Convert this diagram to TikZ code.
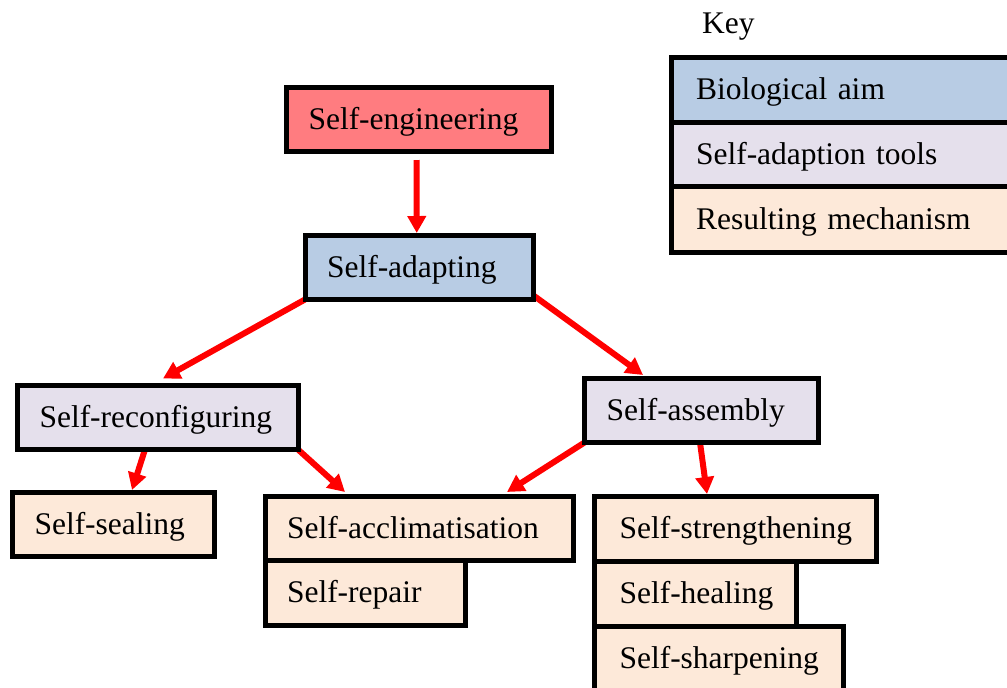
\documentclass[tikz,border=0pt]{standalone}
\usepackage{fontspec}
\setmainfont{Liberation Serif}
\usetikzlibrary{arrows.meta,backgrounds}
\definecolor{cRed}{RGB}{255,124,128}
\definecolor{cBlue}{RGB}{184,204,228}
\definecolor{cLav}{RGB}{229,224,236}
\definecolor{cPeach}{RGB}{253,233,217}
\begin{document}
\begin{tikzpicture}[x=1pt,y=-1pt,
  bx/.style={draw=black, line width=5pt, rectangle, outer sep=0pt, anchor=north west,
    inner xsep=22pt, inner ysep=0pt, align=left, font=\fontsize{31.5}{38}\selectfont,
    text height=23.6pt, text depth=3.8pt},
  sz/.style n args={3}{minimum width=#1, minimum height=#2, text width=#3},
  arr/.style={draw=red, line width=6pt, -{Triangle[length=17pt,width=18pt]}},
  keytxt/.style={anchor=base west, inner sep=0pt, font=\fontsize{31.5}{38}\selectfont}]
\useasboundingbox (0,0) rectangle (1007,688);
\clip (0,0) rectangle (1007,688);
% main boxes
\node[bx, fill=cRed,  sz={265}{64}{221}]     (se) at (286.5,87.5) {\mbox{Self-engineering}};
\node[bx, fill=cBlue, sz={228.5}{64}{184.5}] (sa) at (305,235.5) {\mbox{Self-adapting}};
\node[bx, fill=cLav,  sz={280.5}{64}{236.5}] (sr) at (17.5,385.5) {\mbox{Self-reconfiguring}};
\node[bx, fill=cLav,  sz={234}{64}{190}]     (as) at (584.5,378.5) {\mbox{Self-assembly}};
\node[bx, fill=cPeach, sz={201.5}{64}{157.5}] (sl) at (12.5,492.5) {\mbox{Self-sealing}};
\node[bx, fill=cPeach, sz={308.5}{63.5}{264.5}] (ac) at (265,496.5) {\mbox{Self-acclimatisation}};
\node[bx, fill=cPeach, sz={200.5}{65.5}{156.5}] (rp) at (265,560) {\mbox{Self-repair}};
\node[bx, fill=cPeach, inner xsep=25pt, sz={282}{65}{232}]   (st) at (594.5,496.5) {\mbox{Self-strengthening}};
\node[bx, fill=cPeach, inner xsep=25pt, sz={201.5}{65}{151.5}] (hl) at (594.5,561.5) {\mbox{Self-healing}};
\node[bx, fill=cPeach, inner xsep=25pt, sz={248.5}{65}{198.5}] (sh) at (594.5,626.5) {\mbox{Self-sharpening}};
% key
\node[keytxt] (key) at (702,33) {Key};
\node[bx, fill=cBlue,  inner xsep=25pt, sz={345}{65}{295}]   (k1) at (671,57) {\mbox{Biological aim}};
\node[bx, fill=cLav,   inner xsep=25pt, sz={345}{64.5}{295}] (k2) at (671,122) {\mbox{Self-adaption tools}};
\node[bx, fill=cPeach, inner xsep=25pt, sz={345}{65.5}{295}] (k3) at (671,186.5) {\mbox{Resulting mechanism}};
% connectors
\begin{scope}[on background layer]
\draw[arr] ([xshift=-2.3pt,yshift=-8.5pt]se.south) -- ([xshift=-2.5pt,yshift=2.5pt]sa.north);
\draw[arr] (sa.south west) -- ([xshift=145.5pt,yshift=7pt]sr.north west);
\draw[arr] ([yshift=4pt]sa.south east) -- ([xshift=58.5pt,yshift=3.5pt]as.north west);
\draw[arr] ([xshift=127.5pt]sr.south west) -- ([xshift=119.5pt,yshift=2.5pt]sl.north west);
\draw[arr] (sr.south east) -- ([xshift=80pt,yshift=4.5pt]ac.north west);
\draw[arr] (as.south west) -- ([xshift=242pt,yshift=4.5pt]ac.north west);
\draw[arr] ([xshift=115.5pt]as.south west) -- ([xshift=112.5pt,yshift=2.5pt]st.north west);
\end{scope}
\end{tikzpicture}
\end{document}
